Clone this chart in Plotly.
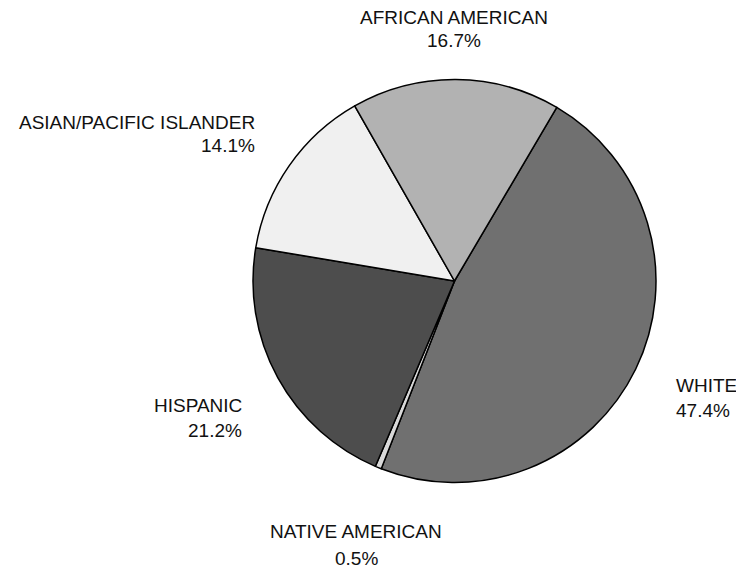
import plotly.graph_objects as go

labels = ["WHITE", "NATIVE AMERICAN", "HISPANIC", "ASIAN/PACIFIC ISLANDER", "AFRICAN AMERICAN"]
percents = [47.4, 0.5, 21.2, 14.1, 16.7]
colors = ["#707070", "#d9d9d9", "#4d4d4d", "#f0f0f0", "#b2b2b2"]

W, H = 736, 569


def px(x):
    return x / W


def py(y):
    return 1 - y / H


fig = go.Figure(go.Pie(
    labels=labels,
    values=percents,
    sort=False,
    direction="clockwise",
    rotation=30.5,
    marker=dict(colors=colors, line=dict(color="#000000", width=1.5)),
    textinfo="none",
    hoverinfo="label+percent",
    showlegend=False,
    domain=dict(x=[px(253), px(656)], y=[py(482.5), py(79.5)]),
))

# label placement (pixel positions), [x, y line1, y line2, anchor]
label_pos = {
    "WHITE": (674, 385, 410, "left"),
    "NATIVE AMERICAN": (356, 531, 558, "center"),
    "HISPANIC": (244, 405, 430, "right"),
    "ASIAN/PACIFIC ISLANDER": (257, 122, 146, "right"),
    "AFRICAN AMERICAN": (454, 17.5, 40.5, "center"),
}

font = dict(family="Liberation Sans, Arial, sans-serif", size=19, color="#111111")
annotations = []
for lab, pct in zip(labels, percents):
    x, y1, y2, anc = label_pos[lab]
    for txt, yy in ((lab, y1), (f"{pct:.1f}%", y2)):
        annotations.append(dict(
            x=px(x), y=py(yy), xref="paper", yref="paper",
            text=txt, showarrow=False, xanchor=anc, yanchor="middle",
            font=font,
        ))

fig.update_layout(
    width=W, height=H,
    margin=dict(l=0, r=0, t=0, b=0),
    paper_bgcolor="white", plot_bgcolor="white",
    annotations=annotations,
)

fig.write_html(
    "out.html",
    config={"displayModeBar": False},
    post_script="document.body.style.margin='0';document.body.style.overflow='hidden';",
)
